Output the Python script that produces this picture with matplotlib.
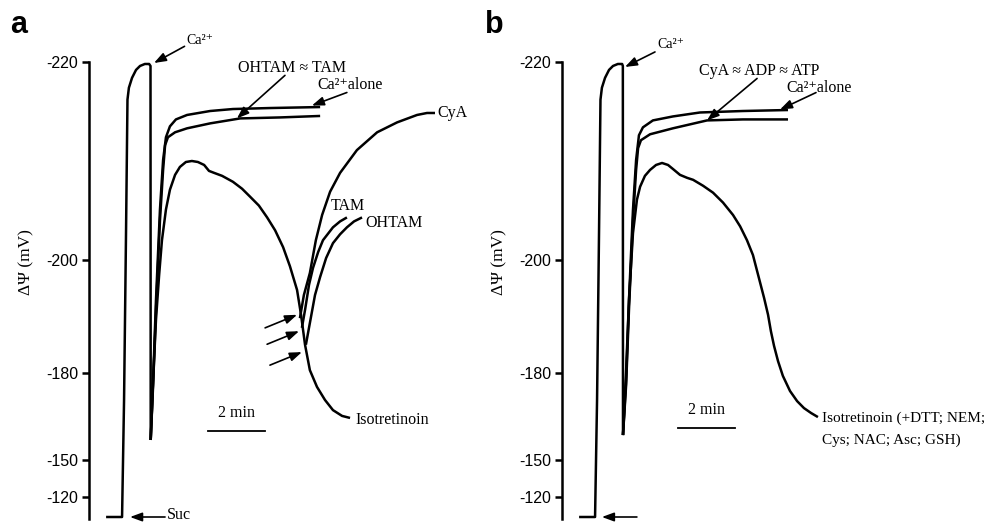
import numpy as np
import matplotlib
matplotlib.use("Agg")
import matplotlib.pyplot as plt

plt.rcParams["font.family"] = ["Liberation Serif", "DejaVu Serif"]

# ---------------------------------------------------------------- data
# time in min, membrane potential in mV
# panel a
a_ca_t = [0.60, 1.16, 1.23, 1.30, 1.35, 1.40, 1.51, 1.65, 1.79, 1.96, 2.11, 2.158, 2.165]
a_ca_v = [-100.0, -100.0, -170.7, -203.0, -216.2, -217.4, -218.4, -219.2, -219.6, -219.8, -219.8, -219.6, -156.9]

a_alone_t = [2.165, 2.25, 2.35, 2.49, 2.60, 2.70, 2.84, 3.05, 3.44, 4.25, 5.05, 6.35, 8.11]
a_alone_v = [-156.9, -177.6, -192.9, -205.1, -210.1, -212.4, -213.5, -214.2, -214.65, -215.05, -215.25, -215.35, -215.45]

a_ohtam_tam_t = [2.165, 2.25, 2.35, 2.49, 2.60, 2.67, 2.77, 3.02, 3.44, 4.25, 5.30, 6.70, 8.11]
a_ohtam_tam_v = [-156.9, -175.9, -191.2, -204.0, -209.1, -211.6, -212.4, -212.9, -213.3, -213.8, -214.3, -214.4, -214.55]

a_iso_t = [2.165, 2.25, 2.35, 2.46, 2.56, 2.70, 2.84, 3.02, 3.19, 3.40, 3.61, 3.82, 4.04,
           4.21, 4.39, 4.67, 5.05, 5.37, 5.65, 5.96, 6.25, 6.53, 6.81, 7.05, 7.30, 7.44,
           7.58, 7.75, 8.00, 8.28, 8.56, 8.88, 9.16]
a_iso_v = [-156.9, -177.6, -189.4, -197.3, -202.0, -205.1, -207.1, -208.6, -209.4, -209.9, -210.0, -209.9, -209.6,
           -209.0, -208.8, -208.5, -207.9, -207.2, -206.4, -205.5, -204.3, -203.0, -201.3, -198.9, -194.7, -190.3,
           -185.0, -180.5, -175.2, -170.7, -167.2, -165.2, -164.5]

a_cya_t = [7.40, 7.54, 7.75, 7.96, 8.18, 8.46, 8.81, 9.40, 10.11, 10.81, 11.51, 11.86, 12.14]
a_cya_v = [-189.7, -193.8, -197.7, -202.0, -204.55, -206.9, -208.8, -211.1, -212.9, -213.9, -214.65, -214.85, -214.85]

a_tam_t = [7.47, 7.58, 7.72, 7.86, 8.04, 8.21, 8.56, 8.81, 9.05]
a_tam_v = [-188.0, -191.15, -195.6, -198.6, -200.8, -202.0, -203.3, -203.9, -204.3]

a_ohtam_t = [7.61, 7.75, 7.93, 8.11, 8.32, 8.56, 8.81, 9.05, 9.30, 9.58]
a_ohtam_v = [-185.0, -188.85, -193.8, -197.0, -200.2, -201.7, -202.6, -203.3, -203.9, -204.3]

# panel b
b_ca_t = [0.60, 1.16, 1.23, 1.30, 1.35, 1.40, 1.51, 1.65, 1.79, 1.96, 2.11, 2.135, 2.14]
b_ca_v = [-100.0, -100.0, -170.7, -203.0, -216.2, -217.4, -218.4, -219.2, -219.6, -219.8, -219.8, -219.6, -158.6]

b_alone_t = [2.14, 2.25, 2.35, 2.49, 2.60, 2.70, 2.84, 3.19, 3.89, 4.84, 6.35, 7.93]
b_alone_v = [-158.6, -177.6, -192.9, -205.05, -210.1, -212.6, -213.4, -214.1, -214.5, -214.9, -215.05, -215.15]

b_cya_adp_atp_t = [2.14, 2.25, 2.35, 2.49, 2.60, 2.67, 2.77, 3.09, 3.89, 5.09, 6.35, 7.93]
b_cya_adp_atp_v = [-158.6, -175.9, -191.2, -204.0, -209.1, -211.3, -212.1, -212.7, -213.3, -214.1, -214.2, -214.2]

b_iso_t = [2.14, 2.25, 2.35, 2.49, 2.63, 2.74, 2.91, 3.09, 3.30, 3.51, 3.72, 3.89, 4.14, 4.39,
           4.60, 4.95, 5.30, 5.65, 6.00, 6.25, 6.49, 6.70, 6.91, 7.09, 7.23, 7.33, 7.44, 7.58,
           7.75, 8.00, 8.25, 8.49, 8.74, 8.98]
b_iso_v = [-158.6, -180.5, -192.9, -202.7, -206.1, -207.4, -208.5, -209.1, -209.6, -209.8, -209.6, -209.2, -208.6, -208.3,
           -208.1, -207.5, -206.8, -205.8, -204.55, -203.4, -202.0, -200.5, -196.8, -193.3, -190.3, -187.4, -184.8, -182.1,
           -179.0, -173.8, -170.3, -167.9, -166.2, -164.8]

y_ticks = [-220, -200, -180, -150, -120]
y_tick_labels = ["-220", "-200", "-180", "-150", "-120"]
scale_bar_min = 2

# electrode response: calibrated (non-linear) potential axis
knot_mv = [-220, -200, -180, -150, -120, -98]
knot_pos = [0, 198, 311, 398, 435, 457]


def fwd(v):
    return np.interp(np.asarray(v, dtype=float), knot_mv, knot_pos)


def inv(p):
    return np.interp(np.asarray(p, dtype=float), knot_pos, knot_mv)


# ---------------------------------------------------------------- figure
W, H = 990, 522
fig = plt.figure(figsize=(W / 100, H / 100), dpi=100)

LW = 1.8
TXT = 11.5
CA = "Ca²⁺"
arrow_kw = dict(arrowstyle="-|>,head_length=0.6,head_width=0.22", color="black",
                lw=1.2, shrinkA=0, shrinkB=0, mutation_scale=12)


def make_axes(left_px):
    ax = fig.add_axes([left_px / W, 3 / H, 390 / W, 457 / H])
    ax.set_yscale("function", functions=(fwd, inv))
    ax.set_ylim(-98, -220)
    ax.set_xlim(0, 390 / 28.5)
    for s in ("top", "right", "bottom"):
        ax.spines[s].set_visible(False)
    ax.spines["left"].set_linewidth(LW)
    ax.set_xticks([])
    ax.set_yticks(y_ticks)
    ax.set_yticklabels(y_tick_labels, family=["Liberation Sans", "DejaVu Sans"], fontsize=11.5)
    ax.tick_params(axis="y", length=5, width=LW, pad=3)
    ax.yaxis.set_minor_locator(matplotlib.ticker.NullLocator())
    ax.set_ylabel("ΔΨ (mV)", fontsize=12.5)
    ax.yaxis.set_label_coords(-55 / 390, (519 - 262) / 457)
    ax.patch.set_alpha(0)
    return ax


def trace(ax, t, v):
    ax.plot(t, v, color="black", lw=LW, solid_capstyle="butt", solid_joinstyle="round", clip_on=False)


def arrow(ax, head, tail_off):
    ax.annotate("", xy=head, xytext=tail_off, textcoords="offset points", arrowprops=arrow_kw,
                annotation_clip=False)


def label(ax, text, anchor, off, ha="left", va="center", size=TXT):
    ax.annotate(text, xy=anchor, xytext=off, textcoords="offset points", ha=ha, va=va,
                fontsize=size, annotation_clip=False)


def scale_bar(ax, t0, v):
    ax.plot([t0, t0 + scale_bar_min], [v, v], color="black", lw=1.3, clip_on=False)
    label(ax, f"{scale_bar_min} min", (t0 + scale_bar_min / 2, v), (0, 13), ha="center")


# ---------------- panel a
ax = make_axes(89)
for t, v in [(a_ca_t, a_ca_v), (a_alone_t, a_alone_v), (a_ohtam_tam_t, a_ohtam_tam_v),
             (a_iso_t, a_iso_v), (a_cya_t, a_cya_v), (a_tam_t, a_tam_v), (a_ohtam_t, a_ohtam_v)]:
    trace(ax, t, v)

arrow(ax, (2.28, -219.9), (22.0, 12.0))
label(ax, CA, (2.28, -219.9), (23.5, 16.0), size=10)
arrow(ax, (5.19, -214.3), (34.6, 31.0))
label(ax, "OHTAM ≈ TAM", (5.19, -214.3), (39.6, 36.0), ha="center")
arrow(ax, (7.82, -215.6), (25.2, 9.4))
label(ax, CA + "alone", (7.82, -215.6), (4.3, 15.1))
label(ax, "CyA", (a_cya_t[-1], a_cya_v[-1]), (1.5, 0))
label(ax, "TAM", (a_tam_t[-1], a_tam_v[-1]), (0.5, 8.4), ha="center")
label(ax, "OHTAM", (a_ohtam_t[-1], a_ohtam_v[-1]), (2.2, -4.3))
label(ax, "Isotretinoin", (a_iso_t[-1], a_iso_v[-1]), (3.6, -1.5))
for head in [(7.30, -190.3), (7.37, -187.4), (7.47, -183.7)]:
    arrow(ax, head, (-23.0, -9.4))
arrow(ax, (1.44, -100.0), (25.2, 0))
label(ax, "Suc", (1.44, -100.0), (26.6, 1.5))
scale_bar(ax, 4.18, -160.0)
fig.text(10 / W, 1 - 25 / H, "a", fontsize=22, fontweight="bold",
         family=["Liberation Sans", "DejaVu Sans"], va="center")

# ---------------- panel b
ax = make_axes(562)
for t, v in [(b_ca_t, b_ca_v), (b_alone_t, b_alone_v), (b_cya_adp_atp_t, b_cya_adp_atp_v),
             (b_iso_t, b_iso_v)]:
    trace(ax, t, v)

arrow(ax, (2.21, -219.5), (21.6, 10.8))
label(ax, CA, (2.21, -219.5), (23.0, 16.0), size=10)
arrow(ax, (5.09, -214.1), (36.0, 30.2))
label(ax, "CyA ≈ ADP ≈ ATP", (5.09, -214.1), (37.4, 35.3), ha="center")
arrow(ax, (7.65, -215.2), (25.9, 12.2))
label(ax, CA + "alone", (7.65, -215.2), (4.3, 15.8))
label(ax, "Isotretinoin (+DTT; NEM;", (b_iso_t[-1], b_iso_v[-1]), (2.9, -0.7), size=11)
label(ax, "Cys; NAC; Asc; GSH)", (b_iso_t[-1], b_iso_v[-1]), (2.9, -16.6), size=11)
arrow(ax, (1.40, -100.0), (25.2, 0))
scale_bar(ax, 4.07, -161.0)
fig.text(485 / W, 1 - 25 / H, "b", fontsize=22, fontweight="bold",
         family=["Liberation Sans", "DejaVu Sans"], va="center")

fig.savefig("out.png", dpi=100)
